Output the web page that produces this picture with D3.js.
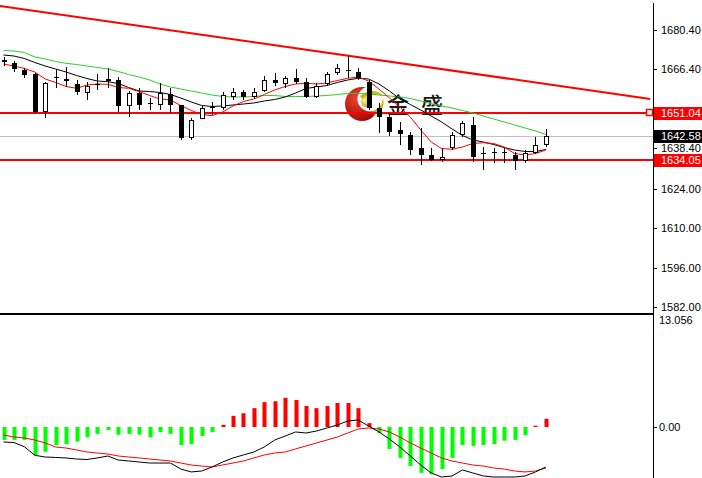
<!DOCTYPE html>
<html><head><meta charset="utf-8">
<script src="https://cdn.jsdelivr.net/npm/d3@7"></script>
<style>body{margin:0;background:#fff;} svg{display:block;}</style>
</head><body><svg id="c" width="702" height="478"></svg>
<script>
// ---------- data ----------
const openP  = [1669.57,1668.57,1666.19,1664.66,1651.38,1663.24,1662.46,1661.11,1657.91,1661.22,
1662.82,1662.64,1653.51,1657.91,1654.47,1653.76,1657.56,1653.76,1641.93,1648.78,
1652.98,1652.58,1656.71,1658.27,1656.71,1658.73,1662.64,1661.11,1663.24,1662.03,
1656.71,1661.11,1665.02,1666.19,1665.59,1662.03,1652.58,1649.60,1644.88,1643.10,
1638.38,1636.00,1634.22,1638.38,1643.10,1646.65,1636.71,1636.95,1636.60,1636.00,
1633.97,1636.60,1639.55];
const highP  = [1670.81,1669.39,1667.01,1664.95,1662.03,1666.55,1667.36,1662.64,1661.82,1664.66,
1667.01,1663.81,1658.73,1659.69,1656.14,1661.47,1659.69,1653.93,1649.03,1653.76,
1654.72,1658.48,1659.90,1659.09,1659.69,1664.17,1665.02,1664.17,1666.55,1663.24,
1661.47,1665.59,1668.22,1671.27,1666.79,1662.64,1654.36,1650.81,1647.82,1644.27,
1645.48,1638.38,1638.48,1644.27,1648.18,1649.60,1638.94,1638.38,1638.38,1637.17,
1637.77,1642.28,1645.12];
const lowP   = [1667.61,1665.59,1663.46,1651.09,1649.03,1659.69,1660.26,1657.31,1655.53,1659.09,
1659.69,1651.38,1649.60,1651.98,1651.98,1651.98,1650.81,1641.32,1641.32,1648.61,
1650.20,1651.98,1655.53,1655.53,1655.89,1658.48,1660.61,1659.90,1661.11,1656.35,
1656.14,1660.61,1664.41,1663.24,1662.64,1651.98,1643.70,1642.74,1639.55,1636.00,
1632.44,1634.04,1633.51,1637.77,1642.50,1633.62,1630.67,1633.05,1633.05,1630.67,
1633.05,1636.35,1638.94];
const closeP = [1669.21,1666.55,1664.41,1651.38,1661.47,1663.81,1662.82,1658.48,1660.61,1660.93,
1662.46,1653.51,1657.91,1653.76,1654.11,1657.91,1653.76,1641.93,1648.43,1652.58,
1652.62,1657.31,1658.27,1656.71,1658.48,1662.64,1661.47,1663.24,1662.03,1656.71,
1660.61,1664.66,1667.01,1665.66,1663.24,1652.58,1649.60,1644.34,1643.46,1637.77,
1636.00,1634.22,1635.28,1643.10,1647.26,1635.39,1636.35,1636.60,1636.95,1633.97,
1636.81,1639.55,1642.58];

const maGreen = [1673.12,1672.94,1672.41,1670.81,1670.10,1669.21,1668.57,1668.14,1667.61,1667.08,
1666.55,1665.66,1664.59,1663.70,1662.64,1661.22,1660.15,1659.44,1658.73,1658.02,
1657.31,1656.78,1656.60,1656.60,1656.78,1657.13,1657.13,1656.78,1656.78,1656.78,
1656.95,1657.13,1657.49,1657.84,1657.84,1657.66,1657.31,1656.95,1656.60,1656.07,
1655.18,1654.29,1653.40,1652.69,1651.80,1650.92,1649.85,1648.78,1647.72,1646.65,
1645.59,1644.52,1643.28];
const maBlack = [1671.52,1671.16,1670.28,1668.85,1667.61,1666.55,1665.48,1664.24,1663.17,1662.28,
1662.03,1661.39,1659.97,1658.73,1658.55,1658.20,1657.49,1656.24,1654.82,1653.58,
1653.22,1653.40,1653.76,1654.11,1654.47,1655.18,1655.71,1656.60,1658.02,1659.62,
1660.15,1660.68,1661.75,1662.64,1663.24,1662.99,1661.22,1658.73,1655.89,1653.93,
1651.98,1649.85,1647.72,1645.23,1642.92,1641.32,1640.61,1639.72,1638.66,1637.77,
1637.24,1637.24,1637.95];
const maRed = [1668.32,1667.61,1666.72,1665.48,1662.99,1661.75,1660.33,1659.69,1660.86,1661.22,
1661.11,1659.97,1659.69,1658.55,1657.13,1655.89,1655.53,1653.58,1651.80,1650.38,
1649.96,1651.27,1653.40,1655.00,1655.89,1657.49,1659.09,1660.33,1661.22,1661.47,
1661.22,1661.57,1662.46,1663.24,1663.70,1662.28,1659.44,1656.24,1653.05,1649.49,
1644.88,1640.61,1638.30,1638.02,1638.84,1640.08,1640.36,1640.08,1638.84,1636.53,
1636.00,1636.53,1637.77];

const macdHist = [-1.5,-1.5,-1.5,-3.3,-2.9,-2.1,-2.0,-1.7,-1.2,-0.8,
-0.35,-0.9,-0.8,-0.9,-1.2,-0.6,-0.8,-2.1,-2.0,-1.05,
-0.6,0.25,1.3,1.6,2.2,2.9,3.0,3.4,3.15,2.45,
2.2,2.45,2.8,2.8,2.2,0.45,-0.7,-2.55,-3.6,-4.55,
-5.35,-5.5,-4.9,-3.6,-2.1,-2.2,-2.1,-2.0,-1.6,-1.5,
-0.95,0.15,0.95];
const macdBlack = [-1.75,-1.81,-2.3,-3.3,-3.50,-3.55,-3.61,-3.73,-3.79,-3.61,
-3.38,-3.85,-3.96,-4.08,-4.20,-4.20,-4.20,-4.90,-5.24,-5.13,
-4.66,-4.08,-3.61,-3.26,-2.91,-2.33,-1.52,-1.05,-0.58,-0.70,
-0.47,-0.12,0.23,0.70,0.82,0.12,-0.58,-1.40,-2.33,-3.38,
-4.43,-5.36,-5.83,-5.71,-5.01,-5.36,-5.71,-5.83,-5.83,-5.83,
-5.71,-5.24,-4.66];
const macdRed = [-0.93,-1.17,-1.28,-1.52,-1.86,-2.33,-2.45,-2.68,-2.91,-3.03,
-3.15,-3.38,-3.50,-3.61,-3.73,-3.85,-3.96,-4.20,-4.43,-4.55,
-4.66,-4.43,-4.20,-3.96,-3.61,-3.26,-3.03,-2.91,-2.56,-2.21,
-1.86,-1.52,-1.17,-0.70,-0.23,-0.12,-0.23,-0.58,-1.17,-1.86,
-2.45,-3.03,-3.61,-3.96,-4.20,-4.43,-4.55,-4.78,-4.90,-5.13,
-5.24,-5.13,-4.78];

const priceTicks = [1680.40,1666.40,1638.40,1624.00,1610.00,1596.00,1582.00];
const hLines = [1651.04,1634.05];
const lastPrice = 1642.58;
const trendIdx = [-1, 62];
const trendPrice = [1689.28, 1655.92];
const macdTicks = [0.00];
const macdMax = 13.056;
const watermark = "金盛";

// ---------- layout ----------
const svg = d3.select("#c");
const AX = 653;
const n = closeP.length;
const idx = d3.range(n);
const x = d3.scaleLinear().domain([0, 52]).range([3.5, 545.9]);
const y = d3.scaleLinear().domain([1582, 1680.4]).range([307, 30]);
const ym = d3.scaleLinear().domain([0, macdMax]).range([427, 315]);
const cx = i => Math.round(x(i));

svg.append("rect").attr("width",702).attr("height",478).attr("fill","#fff");
const defs = svg.append("defs");
defs.append("clipPath").attr("id","cm").append("rect").attr("x",0).attr("y",0).attr("width",AX).attr("height",312);
defs.append("clipPath").attr("id","cs").append("rect").attr("x",0).attr("y",315).attr("width",AX).attr("height",163);
const rg = defs.append("radialGradient").attr("id","lg").attr("cx","35%").attr("cy","35%").attr("r","70%");
rg.append("stop").attr("offset","0%").attr("stop-color","#f04030");
rg.append("stop").attr("offset","100%").attr("stop-color","#9a0808");
const gg = defs.append("radialGradient").attr("id","gb").attr("cx","35%").attr("cy","35%").attr("r","70%");
gg.append("stop").attr("offset","0%").attr("stop-color","#fff3a0");
gg.append("stop").attr("offset","100%").attr("stop-color","#c8a000");

const main = svg.append("g").attr("clip-path","url(#cm)");

// watermark logo
const logo = main.append("g");
logo.append("circle").attr("cx",362).attr("cy",104).attr("r",17).attr("fill","url(#lg)");
logo.append("circle").attr("cx",370).attr("cy",99).attr("r",12.5).attr("fill","#fff");
logo.append("path").attr("d","M360,96 Q372,86 384,96 Q372,92 362,99 Z").attr("fill","#d8b400");
logo.append("circle").attr("cx",366).attr("cy",102).attr("r",5).attr("fill","url(#gb)");
logo.append("path").attr("d","M372,112 Q382,108 383,98 Q386,110 374,115 Z").attr("fill","#d8b400");
main.append("text").attr("x",387).attr("y",113).attr("font-family","'Noto Sans CJK SC'")
  .attr("font-size",22).attr("font-weight",500).attr("letter-spacing",12).attr("fill","#1a1a1a").text(watermark);

// current price gray line
main.append("line").attr("x1",0).attr("x2",AX).attr("y1",Math.round(y(lastPrice))+0.5).attr("y2",Math.round(y(lastPrice))+0.5)
  .attr("stroke","#c0c0c0").attr("stroke-width",1);

// trend line
main.append("line").attr("x1",x(trendIdx[0])).attr("y1",y(trendPrice[0]))
  .attr("x2",x(trendIdx[1])).attr("y2",y(trendPrice[1]))
  .attr("stroke","#ff0000").attr("stroke-width",2);

// horizontal lines
main.selectAll(".hl").data(hLines).enter().append("line")
  .attr("x1",0).attr("x2",AX).attr("y1",d=>Math.round(y(d))).attr("y2",d=>Math.round(y(d)))
  .attr("stroke","#ff0000").attr("stroke-width",2);
main.append("rect").attr("x",646.5).attr("y",Math.round(y(hLines[0]))-3.5).attr("width",6).attr("height",6)
  .attr("fill","#fff").attr("stroke","#ff0000").attr("stroke-width",1.5);

// moving averages
const line = arr => d3.line().x((d,i)=>x(i)).y(d=>y(d))(arr);
main.append("path").attr("d",line(maGreen)).attr("fill","none").attr("stroke","#2ecc2e").attr("stroke-width",1);
main.append("path").attr("d",line(maBlack)).attr("fill","none").attr("stroke","#000").attr("stroke-width",1);
main.append("path").attr("d",line(maRed)).attr("fill","none").attr("stroke","#ff0000").attr("stroke-width",1);

// candles
const cg = main.append("g");
idx.forEach(i=>{
  const c = cx(i);
  cg.append("line").attr("x1",c+0.5).attr("x2",c+0.5)
    .attr("y1",Math.round(y(highP[i]))).attr("y2",Math.round(y(lowP[i])))
    .attr("stroke","#000").attr("stroke-width",1);
  const top = Math.round(y(Math.max(openP[i],closeP[i])));
  const bot = Math.round(y(Math.min(openP[i],closeP[i])));
  const h = Math.max(1, bot-top);
  if (closeP[i] >= openP[i]) {
    if (h <= 1) cg.append("rect").attr("x",c-2).attr("y",top).attr("width",5).attr("height",1).attr("fill","#000");
    else cg.append("rect").attr("x",c-1.5).attr("y",top+0.5).attr("width",4).attr("height",h-1)
      .attr("fill","#fff").attr("stroke","#000").attr("stroke-width",1);
  } else {
    cg.append("rect").attr("x",c-2).attr("y",top).attr("width",5).attr("height",h).attr("fill","#000");
  }
});

// MACD subwindow
const sub = svg.append("g").attr("clip-path","url(#cs)");
sub.selectAll(".hb").data(macdHist).enter().append("rect")
  .attr("x",(d,i)=>cx(i)-1.5).attr("width",4)
  .attr("y",d=>d>=0?ym(d):ym(0)).attr("height",d=>Math.max(1,Math.abs(ym(d)-ym(0))))
  .attr("fill",d=>d>=0?"#ff0000":"#00ff00");
const mline = arr => d3.line().x((d,i)=>x(i)).y(d=>ym(d))(arr);
sub.append("path").attr("d",mline(macdRed)).attr("fill","none").attr("stroke","#ff0000").attr("stroke-width",1);
sub.append("path").attr("d",mline(macdBlack)).attr("fill","none").attr("stroke","#000").attr("stroke-width",1);

// frame / axis
svg.append("line").attr("x1",AX+0.5).attr("x2",AX+0.5).attr("y1",3).attr("y2",478).attr("stroke","#000");
svg.append("rect").attr("x",0).attr("y",313).attr("width",AX+1).attr("height",2).attr("fill","#000");

const font = "'Liberation Sans', Arial, sans-serif";
const tg = svg.append("g").attr("font-family",font).attr("font-size",11);
priceTicks.forEach(v=>{
  const yy = Math.round(y(v))+0.5;
  tg.append("line").attr("x1",AX).attr("x2",AX+4).attr("y1",yy).attr("y2",yy).attr("stroke","#000");
  tg.append("text").attr("x",661).attr("y",yy).attr("dy","0.35em").attr("fill","#000").text(v.toFixed(2));
});
const lab = (v,bg)=>{
  const yy = Math.round(y(v));
  tg.append("rect").attr("x",AX+1).attr("y",yy-6).attr("width",48).attr("height",13).attr("fill",bg);
  tg.append("text").attr("x",661).attr("y",yy+0.5).attr("dy","0.35em").attr("fill","#fff").text(v.toFixed(2));
};
lab(lastPrice,"#000");
hLines.forEach(v=>lab(v,"#ff0000"));

tg.append("text").attr("x",659).attr("y",316).attr("dy","0.75em").attr("fill","#000").text(macdMax.toFixed(3));
macdTicks.forEach(v=>{
  const yy = Math.round(ym(v))+0.5;
  tg.append("line").attr("x1",AX).attr("x2",AX+4).attr("y1",yy).attr("y2",yy).attr("stroke","#000");
  tg.append("text").attr("x",659).attr("y",yy).attr("dy","0.35em").attr("fill","#000").text(v.toFixed(2));
});
</script></body></html>
